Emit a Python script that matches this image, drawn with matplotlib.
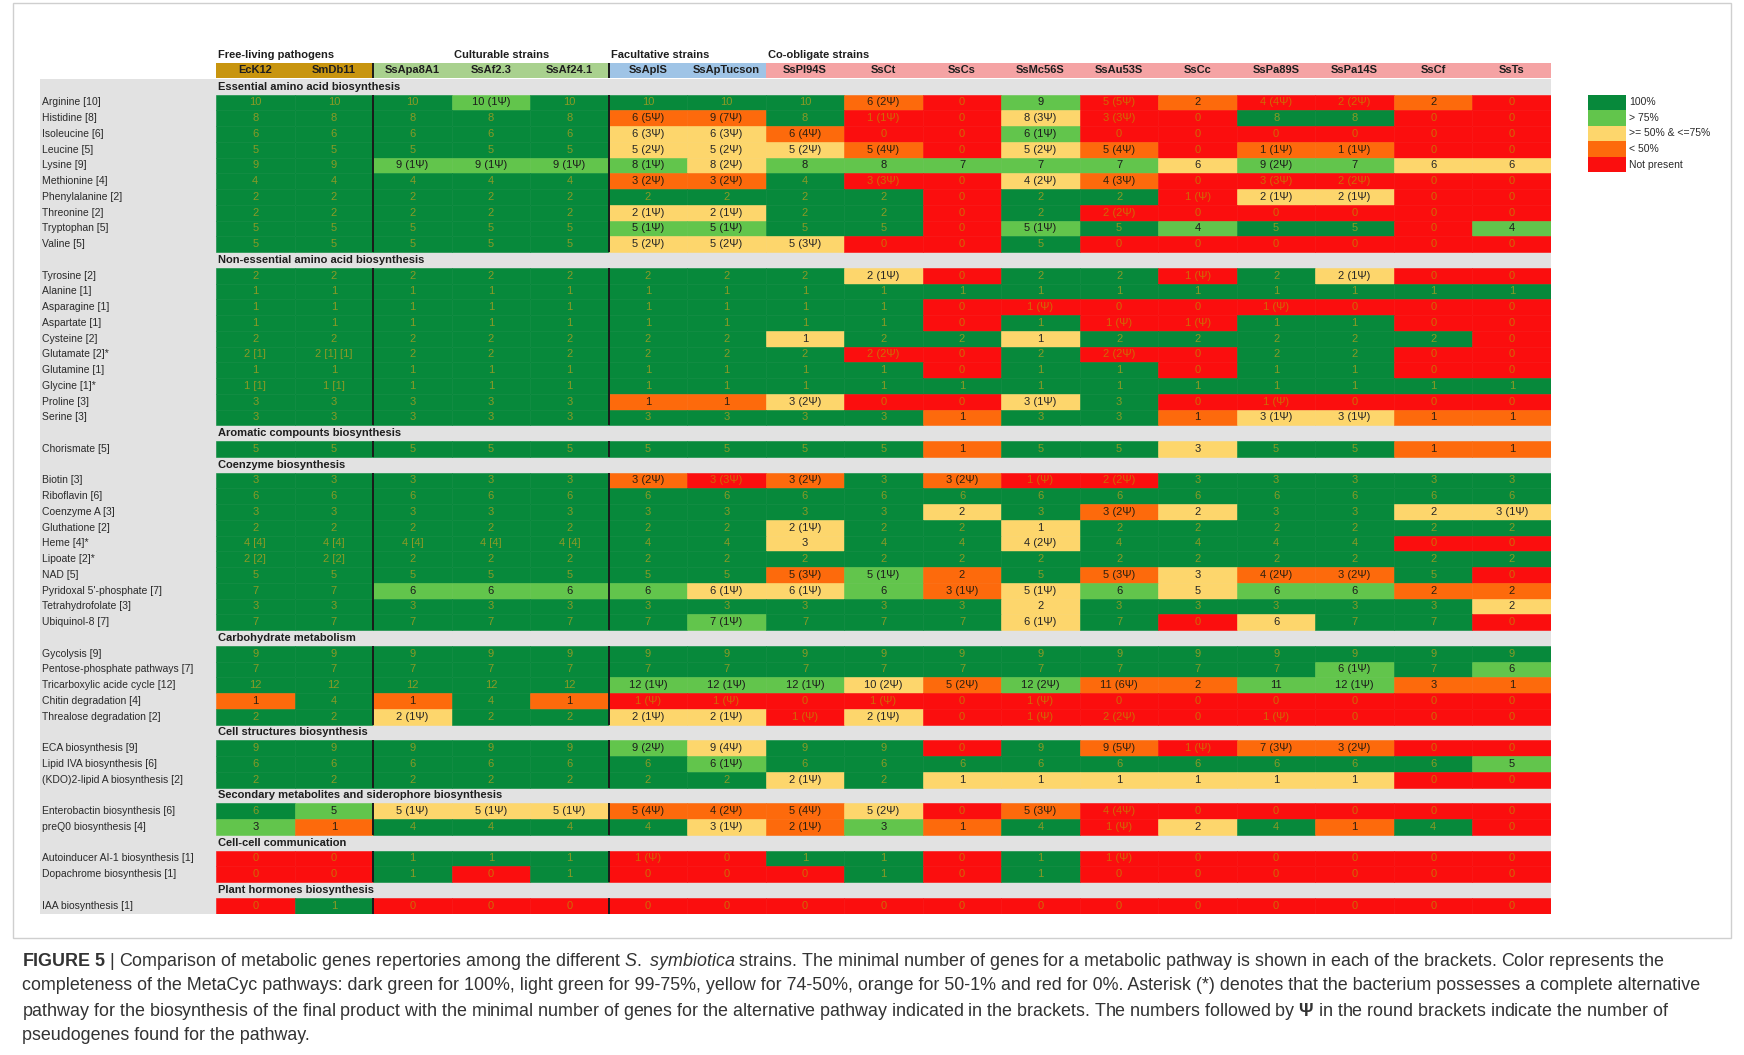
#!/usr/bin/env python
"""
plot.py

Pathway completeness table (MetaCyc) for the S. symbiotica strains and two
free-living pathogens, drawn as a coloured grid with matplotlib.
"""

import matplotlib
matplotlib.use("Agg")
import matplotlib.pyplot as plt
from matplotlib.patches import Rectangle

plt.rcParams["font.family"] = ["Liberation Sans", "DejaVu Sans"]
plt.rcParams["mathtext.fontset"] = "custom"
plt.rcParams["mathtext.rm"] = "Liberation Sans"
plt.rcParams["mathtext.it"] = "Liberation Sans:italic"
plt.rcParams["mathtext.bf"] = "Liberation Sans:bold"


STRAINS = [
    "EcK12", "SmDb11", "SsApa8A1", "SsAf2.3", "SsAf24.1", "SsApIS",
    "SsApTucson", "SsPI94S", "SsCt", "SsCs", "SsMc56S", "SsAu53S",
    "SsCc", "SsPa89S", "SsPa14S", "SsCf", "SsTs",
]

GROUP_NAMES = ["Free-living pathogens", "Culturable strains",
               "Facultative strains", "Co-obligate strains"]
GROUP_SPANS = [(0, 2), (2, 5), (5, 7), (7, 17)]
GROUP_LABEL_COL = [0, 3, 5, 7]

# Cell code: first letter is the completeness class, the rest is the text.
# D = 100%, L = > 75%, Y = >= 50% & <= 75%, O = < 50%, R = not present
ESSENTIAL_ROWS = [
    "Arginine [10]", "Histidine [8]", "Isoleucine [6]", "Leucine [5]",
    "Lysine [9]", "Methionine [4]", "Phenylalanine [2]", "Threonine [2]",
    "Tryptophan [5]", "Valine [5]",
]
ESSENTIAL_CELLS = [
    "D10|D10|D10|L10 (1Ψ)|D10|D10|D10|D10|O6 (2Ψ)|R0|L9|R5 (5Ψ)|O2|R4 (4Ψ)|R2 (2Ψ)|O2|R0",
    "D8|D8|D8|D8|D8|O6 (5Ψ)|O9 (7Ψ)|D8|R1 (1Ψ)|R0|Y8 (3Ψ)|R3 (3Ψ)|R0|D8|D8|R0|R0",
    "D6|D6|D6|D6|D6|Y6 (3Ψ)|Y6 (3Ψ)|O6 (4Ψ)|R0|R0|L6 (1Ψ)|R0|R0|R0|R0|R0|R0",
    "D5|D5|D5|D5|D5|Y5 (2Ψ)|Y5 (2Ψ)|Y5 (2Ψ)|O5 (4Ψ)|R0|Y5 (2Ψ)|O5 (4Ψ)|R0|O1 (1Ψ)|O1 (1Ψ)|R0|R0",
    "D9|D9|L9 (1Ψ)|L9 (1Ψ)|L9 (1Ψ)|L8 (1Ψ)|Y8 (2Ψ)|L8|L8|L7|L7|L7|Y6|L9 (2Ψ)|L7|Y6|Y6",
    "D4|D4|D4|D4|D4|O3 (2Ψ)|O3 (2Ψ)|D4|R3 (3Ψ)|R0|Y4 (2Ψ)|O4 (3Ψ)|R0|R3 (3Ψ)|R2 (2Ψ)|R0|R0",
    "D2|D2|D2|D2|D2|D2|D2|D2|D2|R0|D2|D2|R1 (Ψ)|Y2 (1Ψ)|Y2 (1Ψ)|R0|R0",
    "D2|D2|D2|D2|D2|Y2 (1Ψ)|Y2 (1Ψ)|D2|D2|R0|D2|R2 (2Ψ)|R0|R0|R0|R0|R0",
    "D5|D5|D5|D5|D5|L5 (1Ψ)|L5 (1Ψ)|D5|D5|R0|L5 (1Ψ)|D5|L4|D5|D5|R0|L4",
    "D5|D5|D5|D5|D5|Y5 (2Ψ)|Y5 (2Ψ)|Y5 (3Ψ)|R0|R0|D5|R0|R0|R0|R0|R0|R0",
]

NONESSENTIAL_ROWS = [
    "Tyrosine [2]", "Alanine [1]", "Asparagine [1]", "Aspartate [1]",
    "Cysteine [2]", "Glutamate [2]*", "Glutamine [1]", "Glycine [1]*",
    "Proline [3]", "Serine [3]",
]
NONESSENTIAL_CELLS = [
    "D2|D2|D2|D2|D2|D2|D2|D2|Y2 (1Ψ)|R0|D2|D2|R1 (Ψ)|D2|Y2 (1Ψ)|R0|R0",
    "D1|D1|D1|D1|D1|D1|D1|D1|D1|D1|D1|D1|D1|D1|D1|D1|D1",
    "D1|D1|D1|D1|D1|D1|D1|D1|D1|R0|R1 (Ψ)|R0|R0|R1 (Ψ)|R0|R0|R0",
    "D1|D1|D1|D1|D1|D1|D1|D1|D1|R0|D1|R1 (Ψ)|R1 (Ψ)|D1|D1|R0|R0",
    "D2|D2|D2|D2|D2|D2|D2|Y1|D2|D2|Y1|D2|D2|D2|D2|D2|R0",
    "D2 [1]|D2 [1] [1]|D2|D2|D2|D2|D2|D2|R2 (2Ψ)|R0|D2|R2 (2Ψ)|R0|D2|D2|R0|R0",
    "D1|D1|D1|D1|D1|D1|D1|D1|D1|R0|D1|D1|R0|D1|D1|R0|R0",
    "D1 [1]|D1 [1]|D1|D1|D1|D1|D1|D1|D1|D1|D1|D1|D1|D1|D1|D1|D1",
    "D3|D3|D3|D3|D3|O1|O1|Y3 (2Ψ)|R0|R0|Y3 (1Ψ)|D3|R0|R1 (Ψ)|R0|R0|R0",
    "D3|D3|D3|D3|D3|D3|D3|D3|D3|O1|D3|D3|O1|Y3 (1Ψ)|Y3 (1Ψ)|O1|O1",
]

AROMATIC_ROWS = ["Chorismate [5]"]
AROMATIC_CELLS = [
    "D5|D5|D5|D5|D5|D5|D5|D5|D5|O1|D5|D5|Y3|D5|D5|O1|O1",
]

COENZYME_ROWS = [
    "Biotin [3]", "Riboflavin [6]", "Coenzyme A [3]", "Gluthatione [2]",
    "Heme [4]*", "Lipoate [2]*", "NAD [5]", "Pyridoxal 5'-phosphate [7]",
    "Tetrahydrofolate [3]", "Ubiquinol-8 [7]",
]
COENZYME_CELLS = [
    "D3|D3|D3|D3|D3|O3 (2Ψ)|R3 (3Ψ)|O3 (2Ψ)|D3|O3 (2Ψ)|R1 (Ψ)|R2 (2Ψ)|D3|D3|D3|D3|D3",
    "D6|D6|D6|D6|D6|D6|D6|D6|D6|D6|D6|D6|D6|D6|D6|D6|D6",
    "D3|D3|D3|D3|D3|D3|D3|D3|D3|Y2|D3|O3 (2Ψ)|Y2|D3|D3|Y2|Y3 (1Ψ)",
    "D2|D2|D2|D2|D2|D2|D2|Y2 (1Ψ)|D2|D2|Y1|D2|D2|D2|D2|D2|D2",
    "D4 [4]|D4 [4]|D4 [4]|D4 [4]|D4 [4]|D4|D4|Y3|D4|D4|Y4 (2Ψ)|D4|D4|D4|D4|R0|R0",
    "D2 [2]|D2 [2]|D2|D2|D2|D2|D2|D2|D2|D2|D2|D2|D2|D2|D2|D2|D2",
    "D5|D5|D5|D5|D5|D5|D5|O5 (3Ψ)|L5 (1Ψ)|O2|D5|O5 (3Ψ)|Y3|O4 (2Ψ)|O3 (2Ψ)|D5|R0",
    "D7|D7|L6|L6|L6|L6|Y6 (1Ψ)|Y6 (1Ψ)|L6|O3 (1Ψ)|Y5 (1Ψ)|L6|Y5|L6|L6|O2|O2",
    "D3|D3|D3|D3|D3|D3|D3|D3|D3|D3|Y2|D3|D3|D3|D3|D3|Y2",
    "D7|D7|D7|D7|D7|D7|L7 (1Ψ)|D7|D7|D7|Y6 (1Ψ)|D7|R0|Y6|D7|D7|R0",
]

CARBOHYDRATE_ROWS = [
    "Gycolysis [9]", "Pentose-phosphate pathways [7]",
    "Tricarboxylic acide cycle [12]", "Chitin degradation [4]",
    "Threalose degradation [2]",
]
CARBOHYDRATE_CELLS = [
    "D9|D9|D9|D9|D9|D9|D9|D9|D9|D9|D9|D9|D9|D9|D9|D9|D9",
    "D7|D7|D7|D7|D7|D7|D7|D7|D7|D7|D7|D7|D7|D7|L6 (1Ψ)|D7|L6",
    "D12|D12|D12|D12|D12|L12 (1Ψ)|L12 (1Ψ)|L12 (1Ψ)|Y10 (2Ψ)|O5 (2Ψ)|L12 (2Ψ)|O11 (6Ψ)|O2|L11|L12 (1Ψ)|O3|O1",
    "O1|D4|O1|D4|O1|R1 (Ψ)|R1 (Ψ)|R0|R1 (Ψ)|R0|R1 (Ψ)|R0|R0|R0|R0|R0|R0",
    "D2|D2|Y2 (1Ψ)|D2|D2|Y2 (1Ψ)|Y2 (1Ψ)|R1 (Ψ)|Y2 (1Ψ)|R0|R1 (Ψ)|R2 (2Ψ)|R0|R1 (Ψ)|R0|R0|R0",
]

CELLSTRUCT_ROWS = [
    "ECA biosynthesis [9]", "Lipid IVA biosynthesis [6]",
    "(KDO)2-lipid A biosynthesis [2]",
]
CELLSTRUCT_CELLS = [
    "D9|D9|D9|D9|D9|L9 (2Ψ)|Y9 (4Ψ)|D9|D9|R0|D9|O9 (5Ψ)|R1 (Ψ)|O7 (3Ψ)|O3 (2Ψ)|R0|R0",
    "D6|D6|D6|D6|D6|D6|L6 (1Ψ)|D6|D6|D6|D6|D6|D6|D6|D6|D6|L5",
    "D2|D2|D2|D2|D2|D2|D2|Y2 (1Ψ)|D2|Y1|Y1|Y1|Y1|Y1|Y1|R0|R0",
]

SECONDARY_ROWS = ["Enterobactin biosynthesis [6]", "preQ0 biosynthesis [4]"]
SECONDARY_CELLS = [
    "D6|L5|Y5 (1Ψ)|Y5 (1Ψ)|Y5 (1Ψ)|O5 (4Ψ)|O4 (2Ψ)|O5 (4Ψ)|Y5 (2Ψ)|R0|O5 (3Ψ)|R4 (4Ψ)|R0|R0|R0|R0|R0",
    "L3|O1|D4|D4|D4|D4|Y3 (1Ψ)|O2 (1Ψ)|L3|O1|D4|R1 (Ψ)|Y2|D4|O1|D4|R0",
]

COMMUNICATION_ROWS = ["Autoinducer AI-1 biosynthesis [1]",
                      "Dopachrome biosynthesis [1]"]
COMMUNICATION_CELLS = [
    "R0|R0|D1|D1|D1|R1 (Ψ)|R0|D1|D1|R0|D1|R1 (Ψ)|R0|R0|R0|R0|R0",
    "R0|R0|D1|R0|D1|R0|R0|R0|D1|R0|D1|R0|R0|R0|R0|R0|R0",
]

HORMONE_ROWS = ["IAA biosynthesis [1]"]
HORMONE_CELLS = [
    "R0|D1|R0|R0|R0|R0|R0|R0|R0|R0|R0|R0|R0|R0|R0|R0|R0",
]

SECTION_TITLES = [
    "Essential amino acid biosynthesis",
    "Non-essential amino acid biosynthesis",
    "Aromatic compounts biosynthesis",
    "Coenzyme biosynthesis",
    "Carbohydrate metabolism",
    "Cell structures biosynthesis",
    "Secondary metabolites and siderophore biosynthesis",
    "Cell-cell communication",
    "Plant hormones biosynthesis",
]

LEGEND_CODES = ["D", "L", "Y", "O", "R"]
LEGEND_LABELS = ["100%", "> 75%", ">= 50% & <=75%", "< 50%", "Not present"]

CAPTION_LINES = [
    r"$\mathbf{FIGURE\ 5}$ | Comparison of metabolic genes repertories among the different "
    r"$\mathit{S.\ symbiotica}$ strains. The minimal number of genes for a metabolic pathway "
    r"is shown in each of the brackets. Color represents the",
    "completeness of the MetaCyc pathways: dark green for 100%, light green for 99-75%, "
    "yellow for 74-50%, orange for 50-1% and red for 0%. Asterisk (*) denotes that the "
    "bacterium possesses a complete alternative",
    "pathway for the biosynthesis of the final product with the minimal number of genes "
    "for the alternative pathway indicated in the brackets. The numbers followed by "
    r"$\mathbf{Ψ}$ in the round brackets indicate the number of",
    "pseudogenes found for the pathway.",
]

# colours
FILL = {"D": "#07893b", "L": "#62c54c", "Y": "#fdd66c", "O": "#fd6a0c", "R": "#fb0e0e"}
TEXT_ON = {"D": "#8a9a26", "L": "#1c1c1c", "Y": "#262626", "O": "#2e2010", "R": "#cf6a06"}
GROUP_COLORS = ["#c8950f", "#a9d18e", "#9fc4e6", "#f5a3a4"]
GRAY = "#e2e2e2"

# layout, in output pixels
FIG_W, FIG_H, DPI = 1744, 1055, 100
X0, X1 = 216, 1551
Y0 = 63.0
ROW_H = 15.75
FS = 8
FS_LABEL = 7.5


def main():
    sections = list(zip(
        SECTION_TITLES,
        [ESSENTIAL_ROWS, NONESSENTIAL_ROWS, AROMATIC_ROWS, COENZYME_ROWS,
         CARBOHYDRATE_ROWS, CELLSTRUCT_ROWS, SECONDARY_ROWS,
         COMMUNICATION_ROWS, HORMONE_ROWS],
        [ESSENTIAL_CELLS, NONESSENTIAL_CELLS, AROMATIC_CELLS, COENZYME_CELLS,
         CARBOHYDRATE_CELLS, CELLSTRUCT_CELLS, SECONDARY_CELLS,
         COMMUNICATION_CELLS, HORMONE_CELLS],
    ))

    n_cols = len(STRAINS)
    n_rows = 1 + sum(1 + len(rows) for _, rows, _ in sections)
    cw = (X1 - X0) / n_cols

    def col_of(px):
        return (px - X0) / cw

    def row_of(py):
        return (py - Y0) / ROW_H

    fig = plt.figure(figsize=(FIG_W / DPI, FIG_H / DPI), dpi=DPI)
    ax = fig.add_axes([X0 / FIG_W, 1 - (Y0 + n_rows * ROW_H) / FIG_H,
                       (X1 - X0) / FIG_W, n_rows * ROW_H / FIG_H])
    ax.set_xlim(0, n_cols)
    ax.set_ylim(n_rows, 0)
    ax.axis("off")

    # frame around the figure panel
    fig.add_artist(Rectangle((13 / FIG_W, 1 - 938 / FIG_H), (1731 - 13) / FIG_W,
                             (938 - 3) / FIG_H, transform=fig.transFigure,
                             fill=False, ec="#cfcfcf", lw=1.0))

    # gray body behind labels and section rows
    gx = col_of(40)
    ax.add_patch(Rectangle((gx, 1), n_cols - gx, n_rows - 1, fc=GRAY, ec="none",
                           clip_on=False, zorder=0))

    # header band
    for (a, b), color in zip(GROUP_SPANS, GROUP_COLORS):
        ax.add_patch(Rectangle((a, 0), b - a, 0.94, fc=color, ec="none", zorder=1))
    for j, name in enumerate(STRAINS):
        ax.text(j + 0.5, 0.47, name, ha="center", va="center", fontsize=FS,
                fontweight="bold", color="#1e1e1e", zorder=4)
    for name, c in zip(GROUP_NAMES, GROUP_LABEL_COL):
        ax.text(c + 0.03, row_of(55.5), name, ha="left", va="center", fontsize=FS,
                fontweight="bold", color="#1e1e1e", clip_on=False)

    separators = [GROUP_SPANS[0][1], GROUP_SPANS[1][1]]
    for xs in separators:
        ax.plot([xs, xs], [0, 0.94], color="#1a1a1a", lw=1.4, zorder=3,
                solid_capstyle="butt")

    label_x = col_of(42)
    r = 1
    for title, labels, cells in sections:
        ax.text(0.03, r + 0.5, title, ha="left", va="center", fontsize=FS,
                fontweight="bold", color="#1e1e1e", zorder=4)
        r += 1
        start = r
        for label, row in zip(labels, cells):
            ax.text(label_x, r + 0.5, label, ha="left", va="center",
                    fontsize=FS_LABEL, color="#2a2a2a", clip_on=False)
            for j, cell in enumerate(row.split("|")):
                code, txt = cell[0], cell[1:]
                ax.add_patch(Rectangle((j, r), 1, 1, fc=FILL[code], ec=FILL[code],
                                       lw=0.4, zorder=1))
                ax.text(j + 0.5, r + 0.5, txt, ha="center", va="center",
                        fontsize=FS, color=TEXT_ON[code], zorder=4)
            r += 1
        for xs in separators:
            ax.plot([xs, xs], [start, r], color="#1a1a1a", lw=1.4, zorder=3,
                    solid_capstyle="butt")

    # legend
    lx0, lx1 = col_of(1588), col_of(1626)
    ly = row_of(94.5)
    leg_h = 15.6 / ROW_H
    for i, (code, text) in enumerate(zip(LEGEND_CODES, LEGEND_LABELS)):
        ax.add_patch(Rectangle((lx0, ly + i * leg_h), lx1 - lx0, leg_h,
                               fc=FILL[code], ec="none", clip_on=False))
        ax.text(col_of(1629), ly + (i + 0.5) * leg_h, text, ha="left", va="center",
                fontsize=FS_LABEL, color="#2a2a2a", clip_on=False)

    # caption
    for line, y_px in zip(CAPTION_LINES, [961, 986, 1011, 1035]):
        fig.text(22 / FIG_W, 1 - y_px / FIG_H, line, ha="left", va="center",
                 fontsize=12.9, color="#333333")

    fig.savefig("out.png", dpi=DPI)
    plt.close(fig)


if __name__ == "__main__":
    main()
